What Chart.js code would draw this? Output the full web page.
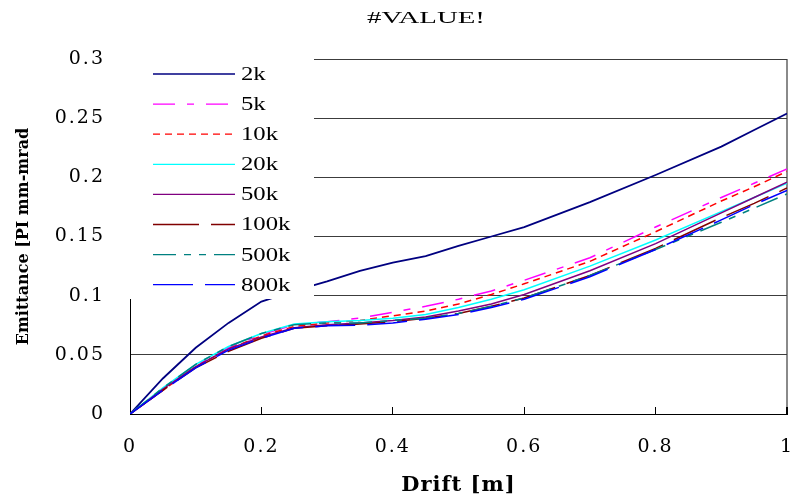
<!DOCTYPE html>
<html>
<head>
<meta charset="utf-8">
<script src="https://cdn.jsdelivr.net/npm/chart.js@4/dist/chart.umd.min.js"></script>
<style>
  html, body { margin: 0; padding: 0; background: #fff; }
  #wrap { width: 796px; height: 498px; position: relative; }
</style>
</head>
<body>
<div id="wrap"><canvas id="c" width="796" height="498"></canvas></div>
<script>
// ---- data ----
const chartTitle = '#VALUE!';
const xTitle = 'Drift [m]';
const yTitle = 'Emittance [PI mm-mrad';
const driftM = [0, 0.05, 0.1, 0.15, 0.2, 0.25, 0.3, 0.35, 0.4, 0.45, 0.5, 0.55, 0.6, 0.7, 0.8, 0.9, 0.95, 1];
const seriesNames = ['2k', '5k', '10k', '20k', '50k', '100k', '500k', '800k'];
const em2k   = [0, 0.030, 0.056, 0.077, 0.095, 0.104, 0.112, 0.121, 0.128, 0.1335, 0.142, 0.150, 0.158, 0.179, 0.202, 0.226, 0.240, 0.254];
const em5k   = [0, 0.021, 0.041, 0.056, 0.067, 0.0755, 0.078, 0.081, 0.086, 0.091, 0.097, 0.104, 0.113, 0.132, 0.158, 0.183, 0.195, 0.207];
const em10k  = [0, 0.020, 0.040, 0.055, 0.066, 0.074, 0.077, 0.079, 0.083, 0.087, 0.093, 0.101, 0.110, 0.129, 0.154, 0.180, 0.192, 0.205];
const em20k  = [0, 0.022, 0.042, 0.057, 0.068, 0.076, 0.078, 0.079, 0.081, 0.084, 0.090, 0.097, 0.105, 0.125, 0.147, 0.171, 0.183, 0.195];
const em50k  = [0, 0.021, 0.040, 0.055, 0.065, 0.073, 0.0755, 0.077, 0.079, 0.082, 0.087, 0.093, 0.101, 0.121, 0.144, 0.170, 0.183, 0.196];
const em100k = [0, 0.020, 0.039, 0.053, 0.064, 0.0725, 0.0745, 0.076, 0.078, 0.081, 0.085, 0.091, 0.098, 0.117, 0.140, 0.166, 0.178, 0.191];
const em500k = [0, 0.022, 0.042, 0.057, 0.068, 0.0755, 0.077, 0.077, 0.079, 0.081, 0.085, 0.091, 0.098, 0.117, 0.139, 0.162, 0.174, 0.186];
const em800k = [0, 0.020, 0.039, 0.054, 0.064, 0.0725, 0.0745, 0.075, 0.077, 0.080, 0.084, 0.090, 0.097, 0.116, 0.139, 0.164, 0.177, 0.189];
const xTicks = [0, 0.2, 0.4, 0.6, 0.8, 1];
const yTicks = [0, 0.05, 0.1, 0.15, 0.2, 0.25, 0.3];

// ---- styles ----
const seriesValues = [em2k, em5k, em10k, em20k, em50k, em100k, em500k, em800k];
const colors = ['#000080', '#FF00FF', '#FF0000', '#00FFFF', '#800080', '#800000', '#008080', '#0000FF'];
const dashes = [[], [22, 12, 7, 12], [7, 5], [], [], [46, 12], [23, 8, 7, 8, 7, 8], [40, 12]];
const widths = [1.8, 1.5, 1.5, 1.5, 1.5, 1.5, 1.5, 1.5];

const datasets = seriesNames.map((name, i) => ({
  label: name,
  data: driftM.map((x, k) => ({ x: x, y: seriesValues[i][k] })),
  borderColor: colors[i],
  backgroundColor: colors[i],
  borderDash: dashes[i],
  borderWidth: widths[i],
  pointRadius: 0,
  tension: 0,
  fill: false,
  order: seriesNames.length - i
}));

Chart.defaults.color = '#000';
Chart.defaults.font.family = '"Liberation Serif", serif';

function setSpacing(ctx, v) { try { ctx.letterSpacing = v; } catch (e) {} }

const legendAndTitle = {
  id: 'legendAndTitle',
  beforeDraw(chart) {
    // reference text is rendered wide; approximate with a little letter spacing
    setSpacing(chart.ctx, '2px');
  },
  afterDatasetsDraw(chart) {
    const ctx = chart.ctx;
    const ca = chart.chartArea;
    ctx.save();
    setSpacing(ctx, '0px');
    // opaque legend box (covers lines, as in the reference)
    ctx.fillStyle = '#ffffff';
    ctx.fillRect(ca.left - 2, ca.top - 9, 186, 249);
    chart.data.datasets.forEach((ds, i) => {
      const y = ca.top + 15 + i * 30.1;
      ctx.strokeStyle = ds.borderColor;
      ctx.lineWidth = 1.3;
      ctx.setLineDash(ds.borderDash || []);
      ctx.beginPath();
      ctx.moveTo(ca.left + 23, y);
      ctx.lineTo(ca.left + 105, y);
      ctx.stroke();
      ctx.setLineDash([]);
      ctx.save();
      ctx.translate(ca.left + 111, y + 1);
      ctx.scale(1.3, 1);
      ctx.font = '19px "Liberation Serif"';
      ctx.fillStyle = '#000';
      ctx.textAlign = 'left';
      ctx.textBaseline = 'middle';
      ctx.fillText(ds.label, 0, 0);
      ctx.restore();
    });
    ctx.restore();
  },
  afterDraw(chart) {
    const ctx = chart.ctx;
    ctx.save();
    setSpacing(ctx, '0px');
    ctx.translate(426, 18.5);
    ctx.scale(1.8, 1);
    ctx.font = '16px "Liberation Serif"';
    ctx.fillStyle = '#000';
    ctx.textAlign = 'center';
    ctx.textBaseline = 'middle';
    ctx.fillText(chartTitle, 0, 0);
    ctx.restore();
  }
};

// draw a scale's title with a given letter spacing
function titleSpacing(scale, v) {
  if (scale._spacingWrapped) return;
  const orig = scale.drawTitle;
  scale.drawTitle = function () {
    const ctx = this.ctx;
    let prev;
    try { prev = ctx.letterSpacing; ctx.letterSpacing = v; } catch (e) {}
    orig.apply(this, arguments);
    try { ctx.letterSpacing = prev; } catch (e) {}
  };
  scale._spacingWrapped = true;
}

const fmt = v => String(+Number(v).toFixed(2));

new Chart(document.getElementById('c'), {
  type: 'line',
  data: { datasets: datasets },
  plugins: [legendAndTitle],
  options: {
    responsive: false,
    animation: false,
    devicePixelRatio: 1,
    layout: { padding: { top: 59, right: 9, left: 0, bottom: 0 } },
    plugins: {
      legend: { display: false },
      title: { display: false },
      tooltip: { enabled: false }
    },
    scales: {
      x: {
        type: 'linear',
        min: 0,
        max: 1,
        afterFit: s => { s.height = 84; s.paddingLeft = 0; s.paddingRight = 0; titleSpacing(s, '1px'); },
        afterBuildTicks: s => { s.ticks = xTicks.map(v => ({ value: v })); },
        ticks: {
          padding: 29,
          font: { family: '"DejaVu Serif", serif', size: 19 },
          color: '#000',
          callback: fmt,
          maxRotation: 0
        },
        grid: {
          drawTicks: true,
          tickLength: -7,
          tickColor: '#000',
          color: c => (c.tick && c.tick.value === 1) ? '#8a8a8a' : 'rgba(0,0,0,0)',
          lineWidth: c => (c.tick && c.tick.value === 1) ? 2 : 1
        },
        border: { display: true, color: '#000', width: 1 },
        title: {
          display: true,
          text: xTitle,
          font: { family: '"DejaVu Serif", serif', size: 21, weight: 'bold' },
          color: '#000',
          padding: { top: 0, bottom: 0 }
        }
      },
      y: {
        type: 'linear',
        min: 0,
        max: 0.3,
        afterFit: s => { s.width = 130; s.paddingTop = 0; s.paddingBottom = 0; titleSpacing(s, '0px'); },
        afterBuildTicks: s => { s.ticks = yTicks.map(v => ({ value: v })); },
        ticks: {
          padding: 25,
          font: { family: '"DejaVu Serif", serif', size: 19 },
          color: '#000',
          callback: fmt
        },
        grid: {
          drawTicks: false,
          color: '#3c3c3c',
          lineWidth: 1
        },
        border: { display: true, color: '#000', width: 1 },
        title: {
          display: true,
          text: yTitle,
          font: { family: '"DejaVu Serif", serif', size: 16, weight: 'bold' },
          color: '#000',
          padding: { top: 14, bottom: 0 }
        }
      }
    }
  }
});
</script>
</body>
</html>
